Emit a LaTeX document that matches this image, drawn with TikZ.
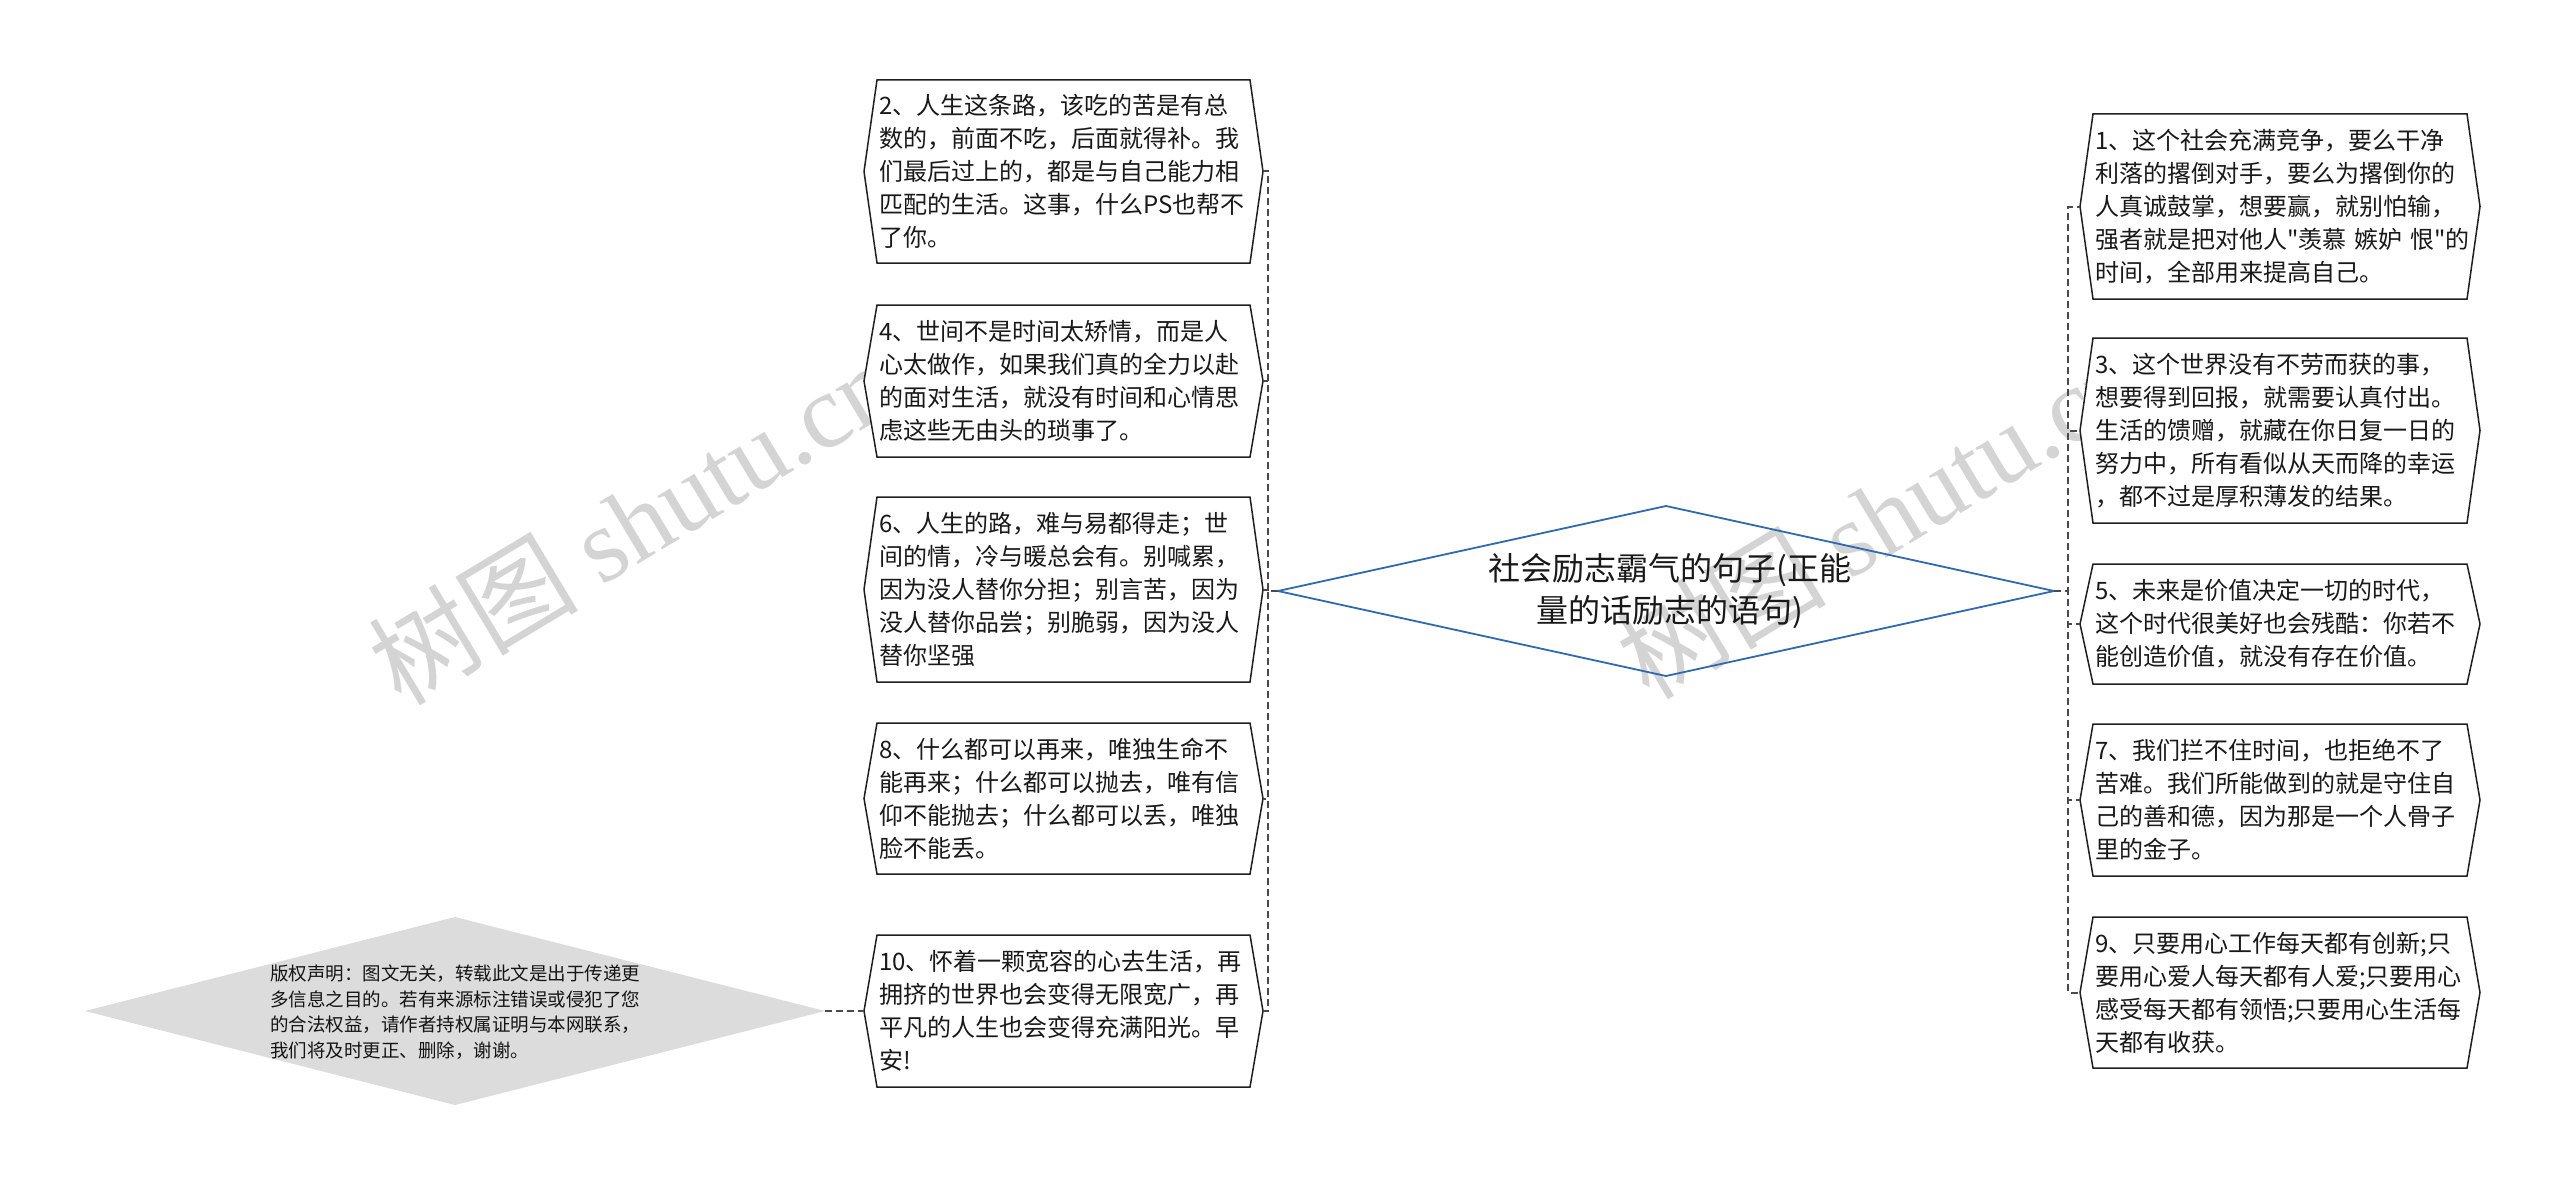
\documentclass[tikz,border=0pt]{standalone}
\usepackage{fontspec}
\newfontfamily\cjk{Noto Sans CJK SC}
\newfontfamily\wmlatin{Liberation Serif}
\definecolor{diablue}{HTML}{2E6AB1}
\definecolor{conngray}{HTML}{4A4A4A}
\definecolor{cpgray}{HTML}{DCDCDC}
\definecolor{wmgray}{HTML}{D4D4D4}
\tikzset{
  hexshape/.style={draw=black!88, line width=1.5pt, fill=white, line join=miter},
  hextext/.style={anchor=west, text width=400pt, inner xsep=2pt, inner ysep=0pt, align=left,
    font=\cjk\fontsize{24pt}{33pt}\selectfont, text=black!90},
  conn/.style={draw=conngray, line width=2pt, dash pattern=on 7pt off 4pt},
  roottext/.style={align=center, inner sep=0pt, font=\cjk\fontsize{32pt}{42pt}\selectfont, text=black!90},
  cptext/.style={align=left, inner sep=0pt, font=\cjk\fontsize{18.5pt}{25.5pt}\selectfont, text=black!92},
  wmtext/.style={inner sep=0pt, text=wmgray, font=\cjk\fontsize{105pt}{110pt}\selectfont},
}
\newcommand\hexbox[6]{%
  \path[hexshape] (#2,#3) -- (#4,#3) -- ({#4+13},{(#3+#5)/2}) -- (#4,#5) -- (#2,#5) -- ({#2-13},{(#3+#5)/2}) -- cycle;
  \node[hextext] (#1) at (#2,{(#3+#5)/2}) {#6};
  \coordinate (#1l) at ({#2-13},{(#3+#5)/2});
  \coordinate (#1r) at ({#4+13},{(#3+#5)/2});
}
\begin{document}
\begin{tikzpicture}[x=1pt,y=-1pt]
\useasboundingbox (0,0) rectangle (2560,1188);
\fill[white] (0,0) rectangle (2560,1188);
% watermarks
\node[wmtext, rotate=31] (wm1) at (632,522) {树图 {\wmlatin shutu.cn}};
\node[wmtext, rotate=31] (wm2) at (1880,516) {树图 {\wmlatin shutu.cn}};
% root
\coordinate (rootL) at (1278,591);
\coordinate (rootR) at (2054,591);
\coordinate (rootT) at (1666,506);
\coordinate (rootB) at (1666,676);
\draw[diablue, line width=1.8pt] (rootL) -- (rootT) -- (rootR) -- (rootB) -- cycle;
\node[roottext] (root) at (1670,591) {社会励志霸气的句子(正能\\量的话励志的语句)};
% copyright
\coordinate (cpl) at (85,1011);
\coordinate (cpr) at (825,1011);
\fill[cpgray] (cpl) -- (455,917) -- (cpr) -- (455,1105) -- cycle;
\node[cptext] (cp) at (455,1012) {版权声明：图文无关，转载此文是出于传递更\\多信息之目的。若有来源标注错误或侵犯了您\\的合法权益，请作者持权属证明与本网联系，\\我们将及时更正、删除，谢谢。};
% left nodes
\hexbox{n2}{877}{80}{1250}{263}{2、人生这条路，该吃的苦是有总\\数的，前面不吃，后面就得补。我\\们最后过上的，都是与自己能力相\\匹配的生活。这事，什么PS也帮不\\了你。}
\hexbox{n4}{877}{305}{1250}{457}{4、世间不是时间太矫情，而是人\\心太做作，如果我们真的全力以赴\\的面对生活，就没有时间和心情思\\虑这些无由头的琐事了。}
\hexbox{n6}{877}{497}{1250}{682}{6、人生的路，难与易都得走；世\\间的情，冷与暖总会有。别喊累，\\因为没人替你分担；别言苦，因为\\没人替你品尝；别脆弱，因为没人\\替你坚强}
\hexbox{n8}{877}{723}{1250}{874}{8、什么都可以再来，唯独生命不\\能再来；什么都可以抛去，唯有信\\仰不能抛去；什么都可以丢，唯独\\脸不能丢。}
\hexbox{n10}{877}{935}{1250}{1087}{10、怀着一颗宽容的心去生活，再\\拥挤的世界也会变得无限宽广，再\\平凡的人生也会变得充满阳光。早\\安!}
% right nodes
\hexbox{n1}{2093}{114}{2467}{299}{1、这个社会充满竞争，要么干净\\利落的撂倒对手，要么为撂倒你的\\人真诚鼓掌，想要赢，就别怕输，\\强者就是把对他人"羡慕 嫉妒 恨"的\\时间，全部用来提高自己。}
\hexbox{n3}{2093}{338}{2467}{523}{3、这个世界没有不劳而获的事，\\想要得到回报，就需要认真付出。\\生活的馈赠，就藏在你日复一日的\\努力中，所有看似从天而降的幸运\\，都不过是厚积薄发的结果。}
\hexbox{n5}{2093}{564}{2467}{684}{5、未来是价值决定一切的时代，\\这个时代很美好也会残酷：你若不\\能创造价值，就没有存在价值。}
\hexbox{n7}{2093}{724}{2467}{876}{7、我们拦不住时间，也拒绝不了\\苦难。我们所能做到的就是守住自\\己的善和德，因为那是一个人骨子\\里的金子。}
\hexbox{n9}{2093}{917}{2467}{1068}{9、只要用心工作每天都有创新;只\\要用心爱人每天都有人爱;只要用心\\感受每天都有领悟;只要用心生活每\\天都有收获。}
% connectors
\foreach \c in {n2,n4,n6,n8,n10}{
  \draw[conn] (rootL) -- ++(-10,0) |- (\c r);
}
\foreach \c in {n1,n3,n5,n7,n9}{
  \draw[conn] (rootR) -- ++(14,0) |- (\c l);
}
\draw[conn] (cpr) -- (n10l);
\end{tikzpicture}
\end{document}
